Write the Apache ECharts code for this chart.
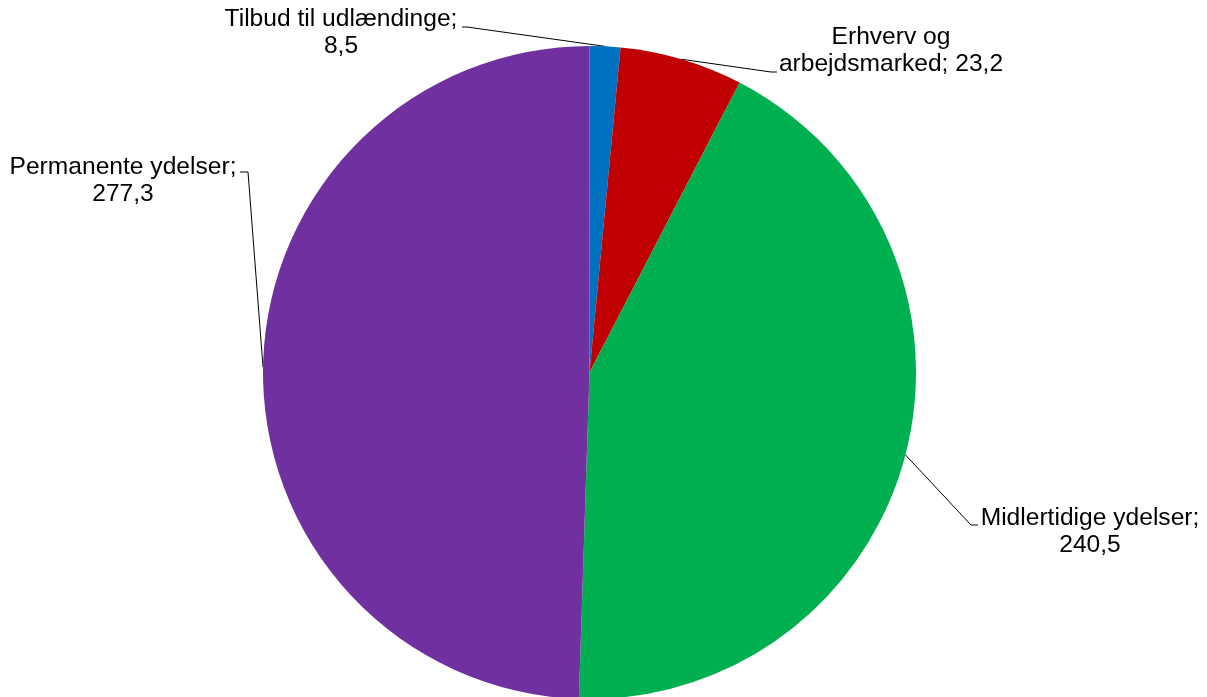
<!DOCTYPE html>
<html>
<head>
<meta charset="utf-8">
<script src="https://cdn.jsdelivr.net/npm/echarts@6/dist/echarts.min.js"></script>
<style>
html,body{margin:0;padding:0;background:#fff;}
#chart{width:1207px;height:697px;}
</style>
</head>
<body>
<div id="chart"></div>
<script>
var categories = ['Tilbud til udlændinge', 'Erhverv og\narbejdsmarked', 'Midlertidige ydelser', 'Permanente ydelser'];
// slice sizes as drawn in the picture (the red slice is drawn larger than its printed label)
var sliceValues = [8.5, 34.1, 240.5, 277.3];
// values printed in the labels
var labelValues = [8.5, 23.2, 240.5, 277.3];
var colors = ['#0070C0', '#C00000', '#00B050', '#7030A0'];
var separators = ['\n', ' ', '\n', '\n'];

// label layout (positions only)
var CX = 589.5, CY = 372.5, R = 326.5;
var labelCfg = [
  {x: 341, y: 33, elbow: [467, 27], end: [462, 27]},
  {x: 891, y: 51, elbow: [771, 72], end: [777, 72]},
  {x: 1090, y: 532, elbow: [971, 525], end: [978, 525]},
  {x: 123, y: 181, elbow: [248, 172], end: [240, 172]}
];

var total = sliceValues.reduce(function (a, b) { return a + b; }, 0);
var cum = [0];
sliceValues.forEach(function (v, i) { cum.push(cum[i] + v); });

var chart = echarts.init(document.getElementById('chart'), null, {renderer: 'canvas'});
chart.setOption({
  backgroundColor: '#ffffff',
  animation: false,
  series: [{
    type: 'pie',
    center: [CX, CY],
    radius: R,
    startAngle: 90,
    clockwise: true,
    avoidLabelOverlap: false,
    data: categories.map(function (c, i) {
      return {name: c, value: sliceValues[i], itemStyle: {color: colors[i]}};
    }),
    itemStyle: {borderWidth: 0},
    emphasis: {disabled: true},
    label: {
      show: true,
      position: 'outer',
      color: '#000',
      fontFamily: 'Liberation Sans, Arial, sans-serif',
      fontSize: 24.6,
      lineHeight: 27,
      align: 'center',
      formatter: function (p) {
        return p.name + ';' + separators[p.dataIndex] + String(labelValues[p.dataIndex]).replace('.', ',');
      }
    },
    labelLine: {
      show: true,
      lineStyle: {color: '#000', width: 1}
    },
    labelLayout: function (p) {
      var i = p.dataIndex;
      var L = labelCfg[i];
      var a = (cum[i] + cum[i + 1]) / 2 / total * Math.PI * 2;
      var sx = CX + R * Math.sin(a), sy = CY - R * Math.cos(a);
      return {
        x: L.x, y: L.y, align: 'center', verticalAlign: 'middle',
        labelLinePoints: [[sx, sy], L.elbow, L.end]
      };
    }
  }]
});
</script>
</body>
</html>
